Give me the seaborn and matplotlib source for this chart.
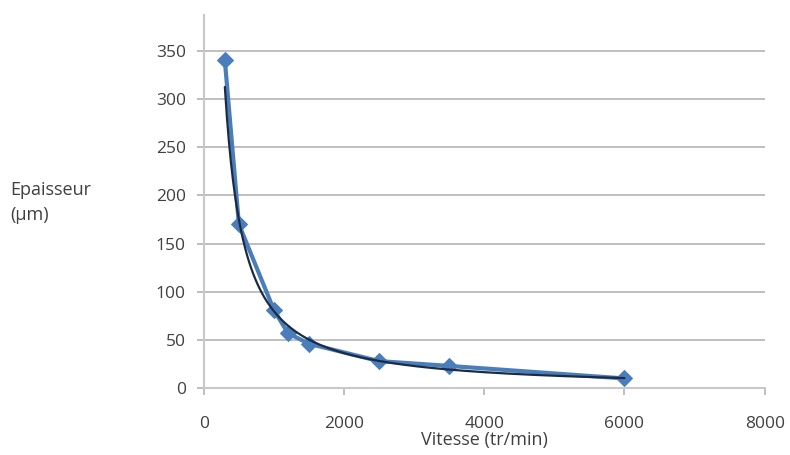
import matplotlib
matplotlib.use("Agg")
import matplotlib.pyplot as plt
import numpy as np
import pandas as pd
import seaborn as sns

# spin-coating speed vs film thickness
vitesse = [300, 500, 1000, 1000, 1200, 1500, 2500, 3500, 6000]
epaisseur = [340, 170, 82, 80, 57, 46, 28, 23, 10]

x_ticks = [0, 2000, 4000, 6000, 8000]
y_ticks = [0, 50, 100, 150, 200, 250, 300, 350]

df = pd.DataFrame({"vitesse": vitesse, "epaisseur": epaisseur})

# power trendline fitted on the measured points
b, log_a = np.polyfit(np.log(df["vitesse"]), np.log(df["epaisseur"]), 1)
x_fit = np.linspace(min(vitesse), max(vitesse), 200)
fit = pd.DataFrame({"vitesse": x_fit, "epaisseur": np.exp(log_a) * x_fit ** b})

sns.set_style("white")
plt.rcParams["font.family"] = ["Open Sans", "DejaVu Sans"]

fig = plt.figure(figsize=(7.9, 4.55), dpi=100)
ax = fig.add_axes([0.258, 0.147, 0.71, 0.82])

ax.yaxis.grid(True, color="#b4b4b4", linewidth=1.2)
ax.set_axisbelow(True)

sns.lineplot(data=df, x="vitesse", y="epaisseur", sort=False, color="#4a7ebb",
             linewidth=3, marker="D", markersize=8, markeredgecolor="#4a7ebb",
             ax=ax, zorder=2)
sns.lineplot(data=fit, x="vitesse", y="epaisseur", color="#1c2b45",
             linewidth=1.6, ax=ax, zorder=3)

ax.set_xlim(0, 8000)
ax.set_ylim(0, 387)
ax.set_xticks(x_ticks)
ax.set_yticks(y_ticks)
ax.tick_params(axis="both", labelsize=12.5, labelcolor="#404040",
               color="#b4b4b4", width=1.2)
ax.tick_params(axis="x", bottom=True, length=5, pad=15)
ax.tick_params(axis="y", left=True, length=5, pad=8)

for side in ["top", "right"]:
    ax.spines[side].set_visible(False)
for side in ["left", "bottom"]:
    ax.spines[side].set_color("#c8c8c8")
    ax.spines[side].set_linewidth(1.5)

ax.set_xlabel("Vitesse (tr/min)", fontsize=13, color="#404040", labelpad=-1)
ax.set_ylabel("")
fig.text(0.013, 0.555, "Epaisseur\n(µm)", fontsize=13, color="#404040",
         ha="left", va="center", linespacing=1.55)

plt.savefig("out.png", dpi=100)
plt.close()
